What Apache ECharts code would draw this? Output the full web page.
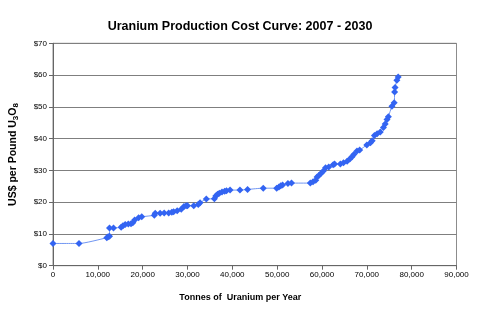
<!DOCTYPE html>
<html>
<head>
<meta charset="utf-8">
<script src="https://cdn.jsdelivr.net/npm/echarts@6/dist/echarts.min.js"></script>
<style>
  html, body { margin: 0; padding: 0; background: #fff; }
  #chart { width: 480px; height: 332px; }
</style>
</head>
<body>
<div id="chart"></div>
<script>
// Cumulative production (tonnes U per year) and the cost at which it is available
const tonnes = [
  0, 5800, 12000, 12300, 12600, 12600, 13500, 15200, 15600, 16100, 16800, 17400, 17800,
  18200, 19100, 19800, 22600, 22800, 23900, 24800, 25800, 26500, 26900, 27700, 28600,
  29200, 29700, 30000, 31400, 32400, 32800, 34200, 36000, 36300, 36700, 37100, 37700,
  38300, 38700, 39500, 41700, 43400, 46900, 49900, 50400, 50800, 51200, 52400, 53200,
  57400, 58000, 58600, 58900, 59300, 59800, 60300, 60800, 61500, 62500, 62800, 64100,
  64800, 65600, 66200, 66700, 67100, 67800, 68400, 70000, 70800, 71200, 71700, 72300,
  73000, 73700, 74100, 74500, 74800, 75600, 76100, 76200, 76300, 76700, 77000
];
const costUsd = [
  7.0, 7.0, 8.8, 9.1, 9.3, 11.9, 11.9, 12.1, 12.6, 13.0, 13.1, 13.2, 13.5,
  14.4, 15.1, 15.4, 15.9, 16.5, 16.5, 16.6, 16.6, 16.8, 17.0, 17.3, 17.8,
  18.6, 18.9, 18.9, 18.9, 19.3, 19.8, 21.0, 21.1, 21.9, 22.5, 22.8, 23.2,
  23.4, 23.6, 23.8, 23.8, 24.0, 24.4, 24.4, 24.8, 25.2, 25.4, 25.9, 26.0,
  26.0, 26.4, 26.9, 27.9, 28.4, 29.1, 29.8, 30.8, 31.1, 31.8, 32.0, 32.0,
  32.4, 32.9, 33.6, 34.3, 35.0, 36.1, 36.4, 38.0, 38.7, 39.3, 41.0, 41.5,
  42.1, 43.5, 44.6, 46.0, 46.9, 50.2, 51.3, 54.7, 56.1, 58.4, 59.4
];

const xTicks = { min: 0, max: 90000, step: 10000 };
const yTicks = { min: 0, max: 70, step: 10 };

const font = 'Arial, "Liberation Sans", sans-serif';
const chart = echarts.init(document.getElementById('chart'), null, { renderer: 'canvas' });

chart.setOption({
  backgroundColor: '#ffffff',
  animation: false,
  title: {
    text: 'Uranium Production Cost Curve: 2007 - 2030',
    left: 'center',
    top: 15,
    textStyle: { fontFamily: font, fontSize: 12.5, fontWeight: 'bold', color: '#000' }
  },
  grid: {
    left: 51.5, right: 23.5, top: 43.3, bottom: 66.3,
    show: true, borderColor: '#8c8c8c', borderWidth: 1, backgroundColor: '#fff'
  },
  xAxis: {
    type: 'value',
    min: xTicks.min, max: xTicks.max, interval: xTicks.step,
    name: 'Tonnes of  Uranium per Year',
    nameLocation: 'middle',
    nameGap: 27,
    nameTextStyle: {
      fontFamily: font, fontSize: 9, fontWeight: 'bold', color: '#000',
      padding: [0, 29, 0, 0]
    },
    axisLine: { show: true, lineStyle: { color: '#666', width: 1 } },
    axisTick: { show: true, length: 4, lineStyle: { color: '#666' } },
    axisLabel: {
      fontFamily: font, fontSize: 8, color: '#000', margin: 5,
      formatter: v => v.toLocaleString('en-US')
    },
    splitLine: { show: false }
  },
  yAxis: {
    type: 'value',
    min: yTicks.min, max: yTicks.max, interval: yTicks.step,
    name: '{a|US$ per Pound U}{s|3}{a|O}{s|8}',
    nameLocation: 'middle',
    nameRotate: 90,
    nameGap: 33,
    nameTextStyle: {
      rich: {
        a: { fontFamily: font, fontSize: 10.5, fontWeight: 'bold', color: '#000' },
        s: { fontFamily: font, fontSize: 8, fontWeight: 'bold', color: '#000', verticalAlign: 'bottom', padding: [5, 0, 0, 0] }
      }
    },
    axisLine: { show: true, lineStyle: { color: '#666', width: 1 } },
    axisTick: { show: true, length: 4, lineStyle: { color: '#666' } },
    axisLabel: {
      fontFamily: font, fontSize: 8, color: '#000', margin: 6,
      formatter: v => '$' + v
    },
    splitLine: { show: true, lineStyle: { color: '#7f7f7f', width: 1 } }
  },
  series: [{
    type: 'line',
    data: tonnes.map((t, i) => [t, costUsd[i]]),
    smooth: 0.2,
    symbol: 'diamond',
    symbolSize: 7,
    lineStyle: { color: '#7196f2', width: 1 },
    itemStyle: { color: '#3364f2' }
  }]
});
</script>
</body>
</html>
